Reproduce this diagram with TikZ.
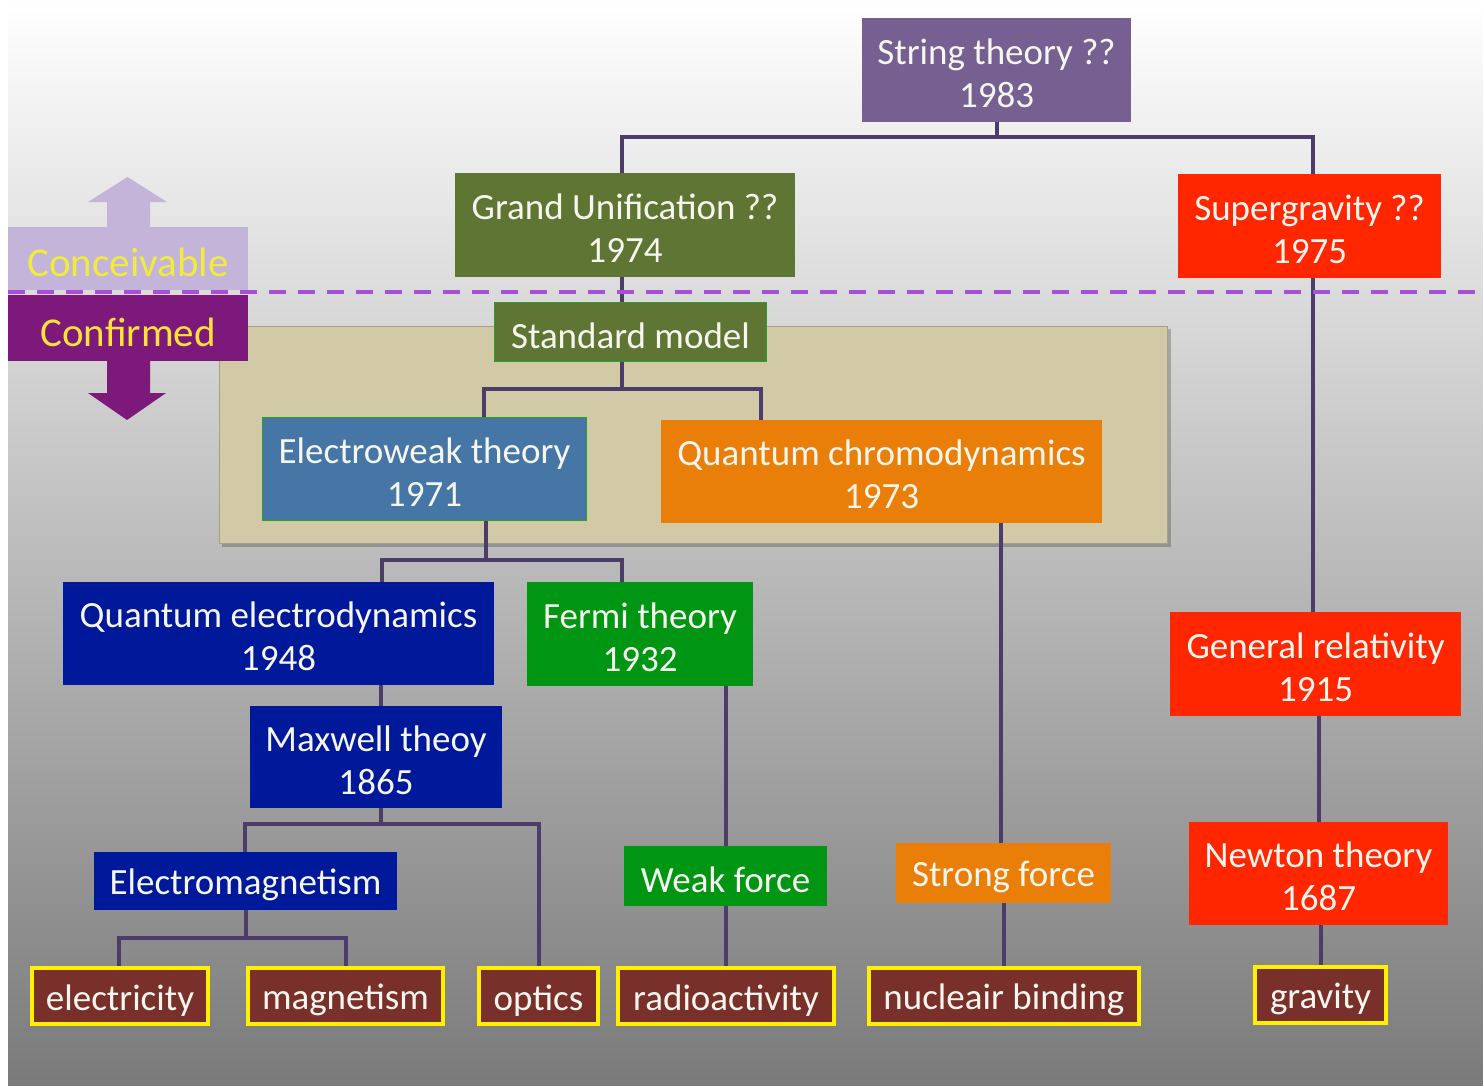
\documentclass[tikz,border=0pt]{standalone}
\usepackage{fontspec}
\setmainfont{Carlito}
\usetikzlibrary{calc}
\pgfdeclarelayer{bglayer}
\pgfdeclarelayer{lines}
\pgfsetlayers{bglayer,lines,main}
\definecolor{txt}{RGB}{246,246,238}
\definecolor{purpleS}{RGB}{117,96,145}
\definecolor{olive}{RGB}{95,117,52}
\definecolor{redS}{RGB}{255,38,0}
\definecolor{steel}{RGB}{70,118,165}
\definecolor{orangeQ}{RGB}{233,126,8}
\definecolor{navy}{RGB}{0,25,155}
\definecolor{greenF}{RGB}{0,150,20}
\definecolor{brownL}{RGB}{122,48,42}
\definecolor{yellowB}{RGB}{255,240,0}
\definecolor{connC}{RGB}{75,60,105}
\definecolor{dashC}{RGB}{165,80,215}
\definecolor{tanC}{RGB}{210,201,166}
\definecolor{tanB}{RGB}{165,160,135}
\definecolor{lav}{RGB}{196,180,218}
\definecolor{confC}{RGB}{125,25,122}
\definecolor{yelC}{RGB}{240,236,60}
\definecolor{yelD}{RGB}{255,226,60}
\definecolor{edgeG}{RGB}{40,160,40}
\newcommand{\liftline}{\rule{0pt}{32pt}}
\tikzset{
  box/.style={rectangle, inner sep=0pt, outer sep=0pt, align=center, text=txt,
    font=\fontsize{37}{43}\selectfont, execute at begin node={\rule{0pt}{34pt}}},
  twobox/.style={rectangle, inner sep=0pt, outer sep=0pt, align=center, text=txt,
    font=\fontsize{37}{43}\selectfont},
  leaf/.style={box, fill=brownL, draw=yellowB, line width=4pt, minimum height=56pt},
  conn/.style={draw=connC, line width=4pt},
  sidebox/.style={rectangle, inner sep=0pt, outer sep=0pt, minimum width=240pt,
    font=\fontsize{41}{46}\selectfont, execute at begin node={\rule{0pt}{37pt}}},
}
\begin{document}
\begin{tikzpicture}[x=1pt,y=-1pt]
\useasboundingbox (0,0) rectangle (1483,1085);
% nodes
\node[twobox, fill=purpleS, minimum width=269pt, minimum height=104pt] (string) at (996.5,70) {\liftline String theory ??\\1983};
\node[twobox, fill=olive, minimum width=340pt, minimum height=104pt] (grand) at (625,225) {\liftline Grand Unification ??\\1974};
\node[twobox, fill=redS, minimum width=263pt, minimum height=104pt] (super) at (1309.5,226) {\liftline Supergravity ??\\1975};
\node[box, fill=olive, draw=edgeG, line width=1.5pt, minimum width=272pt, minimum height=59pt] (standard) at (630.5,332) {Standard model};
\node[twobox, fill=steel, draw=edgeG, line width=1.5pt, minimum width=324pt, minimum height=103pt] (ew) at (424.5,469) {\liftline Electroweak theory\\1971};
\node[twobox, fill=orangeQ, minimum width=441pt, minimum height=103pt] (qcd) at (881.5,471.5) {\liftline Quantum chromodynamics\\1973};
\node[twobox, fill=navy, minimum width=431pt, minimum height=103pt] (qed) at (278.5,633.5) {\liftline Quantum electrodynamics\\1948};
\node[twobox, fill=greenF, minimum width=226pt, minimum height=104pt] (fermi) at (640,634) {\liftline Fermi theory\\1932};
\node[twobox, fill=navy, minimum width=252pt, minimum height=102pt] (maxwell) at (376,757) {\liftline Maxwell theoy\\1865};
\node[box, fill=navy, minimum width=303pt, minimum height=58pt] (em) at (245.5,881) {Electromagnetism};
\node[twobox, fill=redS, minimum width=291pt, minimum height=104pt] (gr) at (1315.5,664) {\liftline General relativity\\1915};
\node[twobox, fill=redS, minimum width=259pt, minimum height=103pt] (newton) at (1318.5,873.5) {\liftline Newton theory\\1687};
\node[box, fill=greenF, minimum width=203pt, minimum height=60pt] (weak) at (725.5,876) {Weak force};
\node[box, fill=orangeQ, minimum width=215pt, minimum height=60pt] (strong) at (1003.5,873) {Strong force};
\node[leaf, minimum width=176pt] (elec) at (120,996) {electricity};
\node[leaf, minimum width=195pt] (mag) at (345.5,996) {magnetism};
\node[leaf, minimum width=119pt] (optics) at (538.5,996) {optics};
\node[leaf, minimum width=216pt] (radio) at (726,996) {radioactivity};
\node[leaf, minimum width=270pt] (nuc) at (1004,996) {nucleair binding};
\node[leaf, minimum width=131pt] (gravity) at (1320.5,995) {gravity};
% side labels
\fill[lav] (107,227) -- (107,202) -- (88,202) -- (127.5,177) -- (167,202) -- (150,202) -- (150,227) -- cycle;
\fill[confC] (107,361) -- (107,393) -- (88,393) -- (127,420) -- (166,393) -- (150,393) -- (150,361) -- cycle;
\node[sidebox, fill=lav, minimum height=63pt, text=yelC] (conc) at (128,258.5) {Conceivable};
\node[sidebox, fill=confC, minimum height=66pt, text=yelD] (conf) at (128,328) {Confirmed};
% background
\begin{pgfonlayer}{bglayer}
\fill[white] (0,0) rectangle (1483,1085);
\fill[top color=white, middle color=black!20, bottom color=black!52] (8,0) rectangle (1483,1085);
\fill[black, opacity=0.22] (222,329) rectangle (1171,547);
\filldraw[fill=tanC, draw=tanB, line width=1pt] (219,326) rectangle (1167,543);
\end{pgfonlayer}
% connectors
\begin{pgfonlayer}{lines}
\coordinate (j1) at ($(string.south)+(0,15)$);
\draw[conn] (string.south) -- (j1);
\draw[conn] ($(grand.north)+(-3,0)$) |- (j1) -| ($(super.north)+(3.5,0)$);
\coordinate (sgx) at ($(super.south)+(3.5,0)$);
\draw[conn] (sgx) -- (sgx |- gr.north);
\draw[conn] (gr.south -| newton.north) -- (newton.north);
\draw[conn] (newton.south -| gravity.north) -- (gravity.north);
\coordinate (gx) at ($(grand.south)+(-3,0)$);
\draw[conn] (gx) -- (gx |- standard.north);
\coordinate (j2) at ($(standard.south)+(-8.5,27)$);
\draw[conn] (standard.south -| j2) -- (j2);
\draw[conn] ($(ew.north)+(59.5,0)$) |- (j2) -| ($(qcd.north)+(-120.5,0)$);
\coordinate (j3) at ($(ew.south)+(61.5,39)$);
\draw[conn] (ew.south -| j3) -- (j3);
\draw[conn] ($(qed.north)+(103.5,0)$) |- (j3) -| ($(fermi.north)+(-18,0)$);
\coordinate (qx) at ($(qcd.south)+(119,0)$);
\draw[conn] (qx) -- (qx |- strong.north);
\draw[conn] (strong.south -| nuc.north) -- (nuc.north);
\draw[conn] (fermi.south -| weak.north) -- (weak.north);
\draw[conn] (weak.south -| radio.north) -- (radio.north);
\coordinate (mx) at ($(maxwell.north)+(5,0)$);
\draw[conn] (qed.south -| mx) -- (mx);
\coordinate (j4) at ($(maxwell.south)+(5,16)$);
\draw[conn] (maxwell.south -| j4) -- (j4);
\draw[conn] ($(em.north)+(-0.5,0)$) |- (j4) -| (optics.north);
\coordinate (j5) at ($(em.south)+(0,28)$);
\draw[conn] (em.south) -- (j5);
\draw[conn] ($(elec.north)+(-1,0)$) |- (j5) -| (mag.north);
\draw[dashC, line width=4pt, dash pattern=on 17pt off 12pt] (8,292) -- (1483,292);
\end{pgfonlayer}
\end{tikzpicture}
\end{document}
